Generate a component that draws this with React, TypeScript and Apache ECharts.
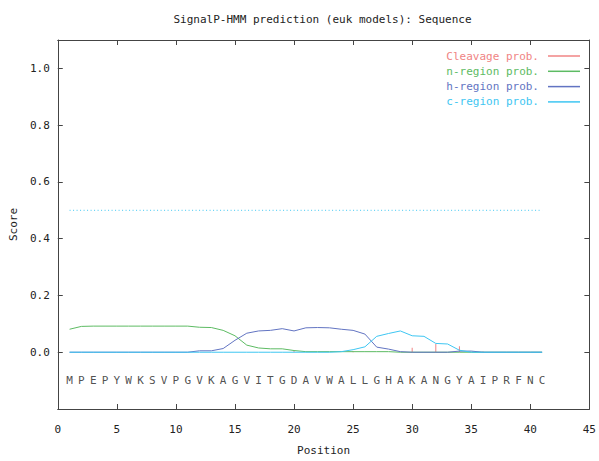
import React, { useEffect, useRef } from 'react';
import * as echarts from 'echarts';

const titleText = 'SignalP-HMM prediction (euk models): Sequence';
const sequence = ['M','P','E','P','Y','W','K','S','V','P','G','V','K','A','G','V','I','T','G','D','A','V','W','A','L','L','G','H','A','K','A','N','G','Y','A','I','P','R','F','N','C'];
const xTicks = [0, 5, 10, 15, 20, 25, 30, 35, 40, 45];
const yTickLabels = ['0.0', '0.2', '0.4', '0.6', '0.8', '1.0'];

const cleavage = [0,0,0,0,0,0,0,0,0,0,0,0,0,0,0,0,0,0,0,0.004,0,0,0,0,0.004,0,0,0,0,0.016,0,0.029,0,0.021,0,0.003,0,0,0,0,0];
const nRegion = [0.081,0.091,0.092,0.092,0.092,0.092,0.092,0.092,0.092,0.092,0.092,0.088,0.087,0.077,0.058,0.025,0.015,0.012,0.012,0.006,0.002,0.002,0.002,0.002,0.002,0.002,0.002,0.002,0,0,0,0,0,0,0,0,0,0,0,0,0];
const hRegion = [0,0,0,0,0,0,0,0,0,0,0,0.005,0.005,0.013,0.042,0.067,0.075,0.077,0.083,0.075,0.086,0.087,0.086,0.081,0.077,0.064,0.018,0.011,0.002,0,0,0,0,0.004,0.004,0,0,0,0,0,0];
const cRegion = [0,0,0,0,0,0,0,0,0,0,0,0,0,0,0,0,0,0,0,0,0,0,0,0.002,0.009,0.019,0.056,0.066,0.075,0.058,0.056,0.031,0.029,0.007,0,0,0,0,0,0,0];
const thresholdX = [1, 41];
const thresholdY = [0.5, 0.5];
const seqLevel = -0.1;

const RED = '#f08484';
const GREEN = '#5dbb63';
const BLUE = '#6274c2';
const CYAN = '#3ec6f2';
const AXIS = '#444';
const TXT = '#222';
const MONO = 'DejaVu Sans Mono';

export default function App() {
  const ref = useRef<HTMLDivElement>(null);
  useEffect(() => {
    const chart = echarts.init(ref.current!, null, { renderer: 'svg' });
    const pos = sequence.map((_, i) => i + 1);
    const pair = (arr: number[]) => arr.map((v, i) => [pos[i], v]);
    const axisCommon = {
      axisLine: { show: true, onZero: false, lineStyle: { color: AXIS, width: 1 } },
      axisTick: { show: true, inside: true, length: 5, lineStyle: { color: AXIS, width: 1 } },
      splitLine: { show: false },
    };
    chart.setOption({
      animation: false,
      backgroundColor: '#fff',
      graphic: [
        {
          type: 'text',
          x: 322.5,
          y: 19,
          style: {
            text: titleText,
            textAlign: 'center',
            textVerticalAlign: 'middle',
            fontFamily: MONO,
            fontSize: 11,
            fill: TXT,
          },
        },
      ],
      grid: { left: 54, right: 8, top: 40, bottom: 47, containLabel: false },
      legend: {
        orient: 'vertical',
        right: 14,
        top: 44,
        align: 'right',
        icon: 'rect',
        itemWidth: 32,
        itemHeight: 1.5,
        itemGap: 1.3,
        selectedMode: false,
        textStyle: { fontFamily: MONO, fontSize: 11, lineHeight: 14, padding: [0, 4, 0, 0] },
        data: [
          { name: 'Cleavage prob.', textStyle: { color: RED } },
          { name: 'n-region prob.', textStyle: { color: GREEN } },
          { name: 'h-region prob.', textStyle: { color: BLUE } },
          { name: 'c-region prob.', textStyle: { color: CYAN } },
        ],
      },
      xAxis: [
        {
          type: 'value',
          position: 'bottom',
          min: xTicks[0],
          max: xTicks[xTicks.length - 1],
          interval: 5,
          name: 'Position',
          nameLocation: 'middle',
          nameGap: 36,
          nameTextStyle: { fontFamily: MONO, fontSize: 11, color: TXT },
          axisLabel: { fontFamily: MONO, fontSize: 11, color: TXT, margin: 15 },
          ...axisCommon,
        },
        {
          type: 'value',
          position: 'top',
          min: xTicks[0],
          max: xTicks[xTicks.length - 1],
          interval: 5,
          axisLabel: { show: false },
          ...axisCommon,
        },
      ],
      yAxis: [
        {
          type: 'value',
          position: 'left',
          min: -0.2,
          max: 1.1,
          interval: 0.2,
          name: 'Score',
          nameLocation: 'middle',
          nameGap: 30,
          nameTextStyle: { fontFamily: MONO, fontSize: 11, color: TXT },
          axisLabel: {
            fontFamily: MONO,
            fontSize: 11,
            color: TXT,
            margin: 8,
            formatter: (v: number) => {
              const s = v.toFixed(1);
              return yTickLabels.includes(s) && v > -0.05 ? s : '';
            },
          },
          ...axisCommon,
        },
        {
          type: 'value',
          position: 'right',
          min: -0.2,
          max: 1.1,
          interval: 0.2,
          axisLabel: { show: false },
          ...axisCommon,
        },
      ],
      series: [
        {
          name: 'Cleavage prob.',
          type: 'bar',
          data: pair(cleavage),
          barWidth: 1,
          color: RED,
          itemStyle: { color: RED },
        },
        {
          name: 'n-region prob.',
          type: 'line',
          data: pair(nRegion),
          symbol: 'none',
          color: GREEN,
          lineStyle: { color: GREEN, width: 1 },
        },
        {
          name: 'h-region prob.',
          type: 'line',
          data: pair(hRegion),
          symbol: 'none',
          color: BLUE,
          lineStyle: { color: BLUE, width: 1 },
        },
        {
          name: 'c-region prob.',
          type: 'line',
          data: pair(cRegion),
          symbol: 'none',
          color: CYAN,
          lineStyle: { color: CYAN, width: 1 },
        },
        {
          name: 'threshold',
          type: 'line',
          data: thresholdX.map((x, i) => [x, thresholdY[i]]),
          symbol: 'none',
          color: CYAN,
          lineStyle: { color: CYAN, width: 1, type: [1, 2.5] },
        },
        {
          name: 'sequence',
          type: 'scatter',
          data: sequence.map((c, i) => [pos[i], seqLevel, c]),
          symbolSize: 1,
          itemStyle: { color: 'rgba(0,0,0,0)' },
          label: {
            show: true,
            position: 'inside',
            formatter: (p: any) => p.value[2],
            fontFamily: MONO,
            fontSize: 11,
            color: TXT,
          },
        },
      ],
    });
    return () => chart.dispose();
  }, []);
  return (
    <div
      ref={ref}
      style={{ position: 'fixed', left: 0, top: 0, width: 599, height: 461, background: '#fff' }}
    />
  );
}
